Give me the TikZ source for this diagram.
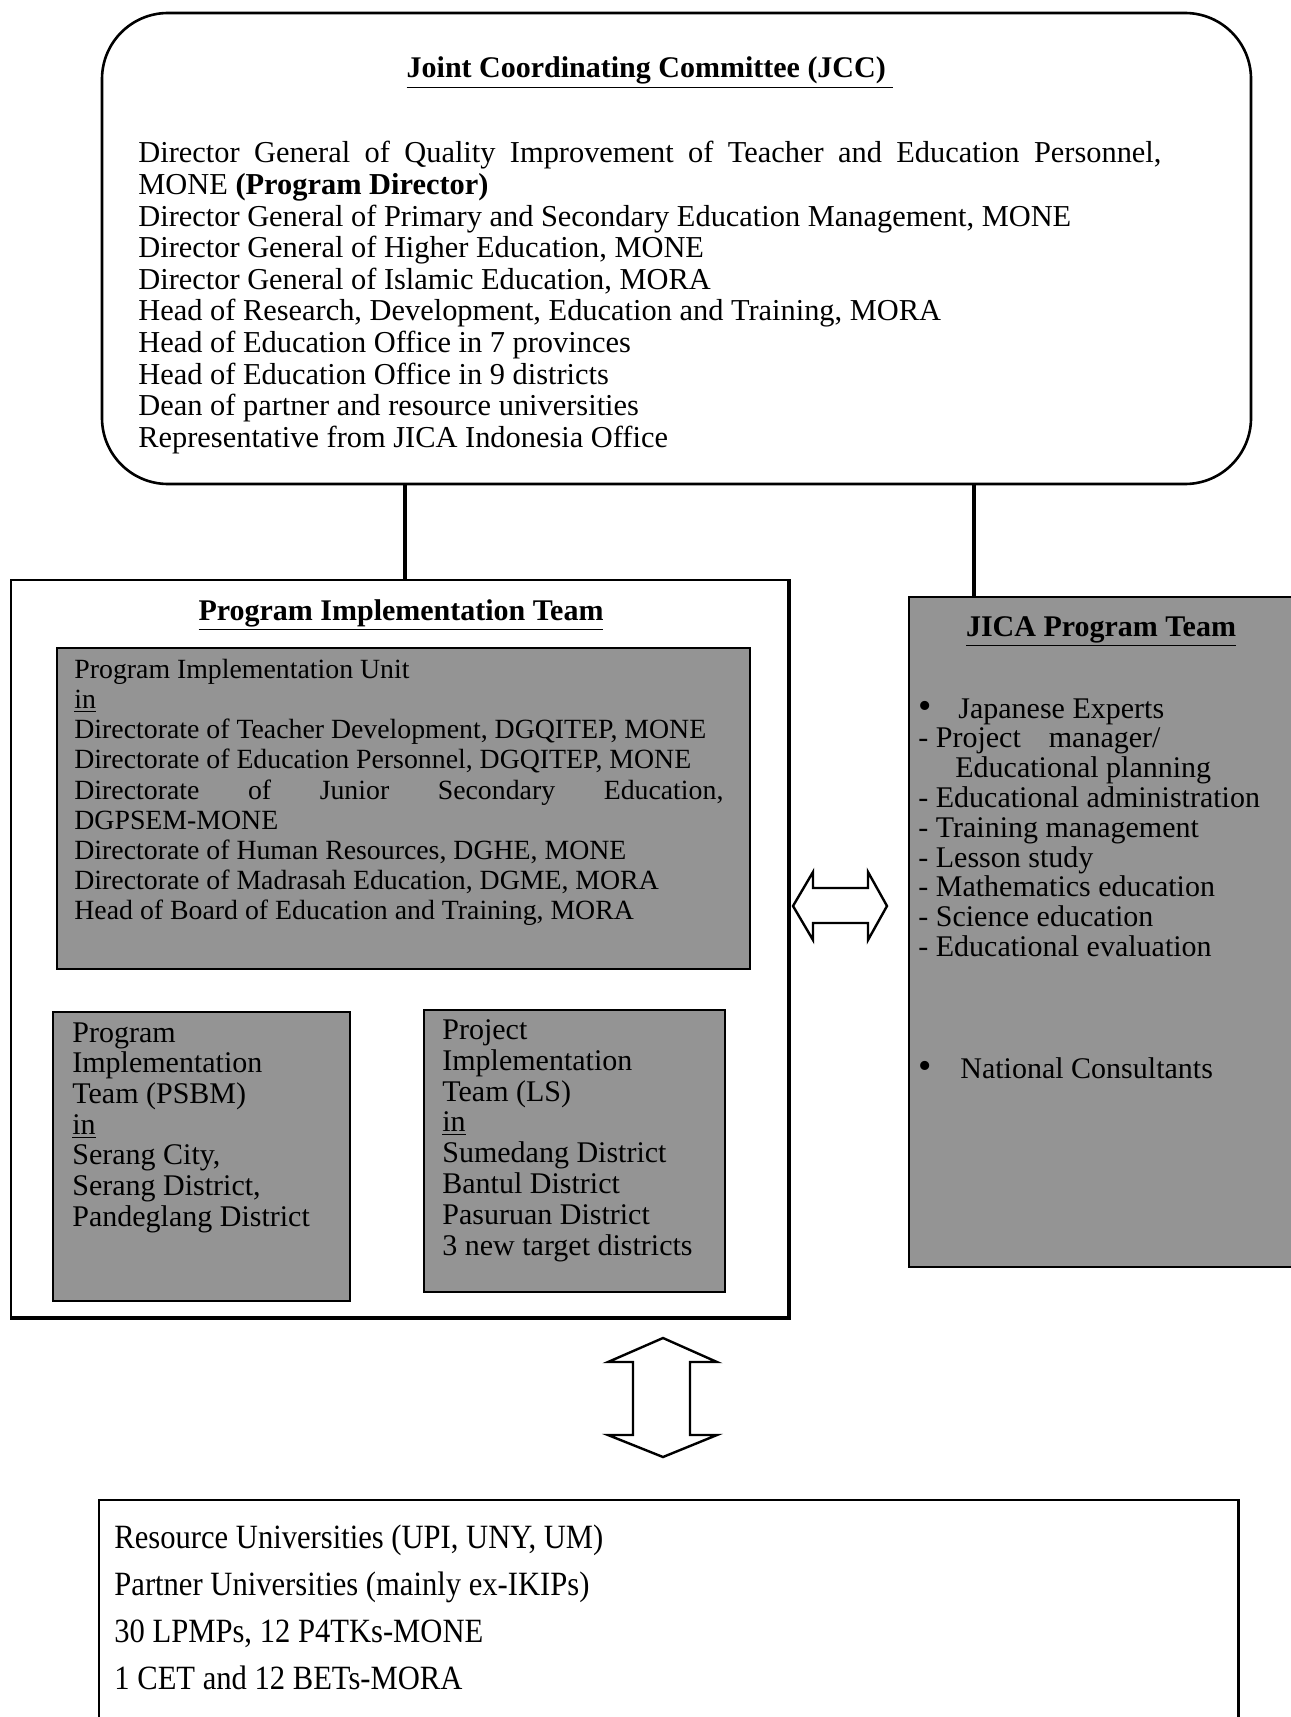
\documentclass[tikz,border=0pt]{standalone}
\usepackage{fontspec}
\setmainfont{Liberation Serif}
\newfontfamily\narrowserif[FakeStretch=0.9]{Liberation Serif}
\usetikzlibrary{positioning, fit}

\begin{document}
\begin{tikzpicture}[
    x=0.5pt, y=-0.5pt,
    every node/.style={inner sep=0pt},
    box/.style={draw, line width=1pt},
    shaded/.style={box, line width=1.4pt, fill=black!42},
    title/.style={font=\fontsize{15}{18}\selectfont\bfseries, anchor=base},
    body/.style={font=\fontsize{15.2}{15.8}\selectfont, anchor=north west, align=left,
        execute at begin node={\spaceskip=0pt\xspaceskip=0pt}},
    item/.style={font=\fontsize{15}{15}\selectfont, anchor=base west},
    dot/.style={font=\fontsize{19}{19}\selectfont, anchor=base west},
    uni/.style={font=\narrowserif\fontsize{17}{20}\selectfont, anchor=base west},
    conn/.style={line width=2pt},
    fatarrow/.style={draw, line width=1.2pt, fill=white, line join=miter}
]

\def\lh{29.8}
\def\lr{47.3}

\fill[white] (0,0) rectangle (1290,1717);
\useasboundingbox (0,0) rectangle (1290,1717);

% Boxes
\node[box, line width=1.3pt, rounded corners=33pt, fit={(102,13) (1251,484)}] (jcc) {};
\node[box, fit={(11,580) (788,1317)}] (pit) {};
\draw[line width=1.6pt] (pit.south west) -- (pit.south east) -- (pit.north east);
\node[shaded, fit={(57,648) (750,969)}] (piu) {};
\node[shaded, fit={(53,1012) (350,1301)}] (psbm) {};
\node[shaded, fit={(424,1010) (725,1292)}] (ls) {};
\node[shaded, fit={(909,597) (1300,1267)}] (jica) {};
\node[box, line width=0.6pt, fit={(99,1500) (1238,1730)}] (res) {};
\draw[line width=1.8pt] (res.north east) -- (res.south east);

% JCC
\node[title] (jcctitle) at (650,78) {\underline{Joint Coordinating Committee (JCC)~}};
\node[body, text width=511.5pt] (jccbody) at (138,141) {%
\makebox[511.5pt][s]{Director General of Quality Improvement of Teacher and Education Personnel,}\\
MONE \textbf{(Program Director)}\\
Director General of Primary and Secondary Education Management, MONE\\
Director General of Higher Education, MONE\\
Director General of Islamic Education, MORA\\
Head of Research, Development, Education and Training, MORA\\
Head of Education Office in 7 provinces\\
Head of Education Office in 9 districts\\
Dean of partner and resource universities\\
Representative from JICA Indonesia Office};

% Program Implementation Team
\node[title] (pittitle) at (401,620) {\underline{Program Implementation Team}};
\node[body, font=\fontsize{13.9}{15.05}\selectfont, text width=324.5pt] (piubody) at (74,659) {%
Program Implementation Unit\\
\underline{in}\\
Directorate of Teacher Development, DGQITEP, MONE\\
Directorate of Education Personnel, DGQITEP, MONE\\
\makebox[324.5pt][s]{Directorate of Junior Secondary Education,}\\
DGPSEM-MONE\\
Directorate of Human Resources, DGHE, MONE\\
Directorate of Madrasah Education, DGME, MORA\\
Head of Board of Education and Training, MORA};
\node[body, font=\fontsize{15}{15.35}\selectfont] (psbmbody) at (72,1022) {%
Program\\
Implementation\\
Team (PSBM)\\
\underline{in}\\
Serang City,\\
Serang District,\\
Pandeglang District};
\node[body, font=\fontsize{15}{15.45}\selectfont] (lsbody) at (442,1019) {%
Project\\
Implementation\\
Team (LS)\\
\underline{in}\\
Sumedang District\\
Bantul District\\
Pasuruan District\\
3 new target districts};

% JICA Program Team
\node[title] (jicatitle) at (1101,636) {\underline{JICA Program Team}};
\node[dot] (b1) at (918,718) {\textbullet};
\node[item] (exp) at (958,718) {Japanese Experts};
\node[item] (e1) at (918,718+\lh) {- Project\hspace{14pt}manager/};
\node[item] (e1b) at (955,718+2*\lh) {Educational planning};
\node[item] (e2) at (918,718+3*\lh) {- Educational administration};
\node[item] (e3) at (918,718+4*\lh) {- Training management};
\node[item] (e4) at (918,718+5*\lh) {- Lesson study};
\node[item] (e5) at (918,718+6*\lh) {- Mathematics education};
\node[item] (e6) at (918,718+7*\lh) {- Science education};
\node[item] (e7) at (918,718+8*\lh) {- Educational evaluation};
\node[dot] (b2) at (918,1078) {\textbullet};
\node[item] (nat) at (960,1078) {National Consultants};

% Universities and institutes
\node[uni] (r1) at (114,1548) {Resource Universities (UPI, UNY, UM)};
\node[uni] (r2) at (114,1548+\lr) {Partner Universities (mainly ex-IKIPs)};
\node[uni] (r3) at (114,1548+2*\lr) {30 LPMPs, 12 P4TKs-MONE};
\node[uni] (r4) at (114,1548+3*\lr) {1 CET and 12 BETs-MORA};

% Connecting lines
\coordinate (c1) at (405,484);
\coordinate (c2) at (974,484);
\draw[conn] (c1) -- (c1 |- pit.north);
\draw[conn] (c2) -- (c2 |- jica.north);

% Double arrows
\coordinate (harr) at (840,906);
\draw[fatarrow] (harr) ++(-47,0) -- ++(20,-34) -- ++(0,16) -- ++(55,0) -- ++(0,-16)
    -- ++(19,34) -- ++(-19,34) -- ++(0,-17) -- ++(-55,0) -- ++(0,17) -- cycle;
\coordinate (varr) at (663,1398);
\draw[fatarrow] (varr) ++(0,-60) -- ++(54,24) -- ++(-27,0) -- ++(0,73) -- ++(27,0)
    -- ++(-54,22) -- ++(-55,-22) -- ++(25,0) -- ++(0,-73) -- ++(-25,0) -- cycle;

\end{tikzpicture}
\end{document}
